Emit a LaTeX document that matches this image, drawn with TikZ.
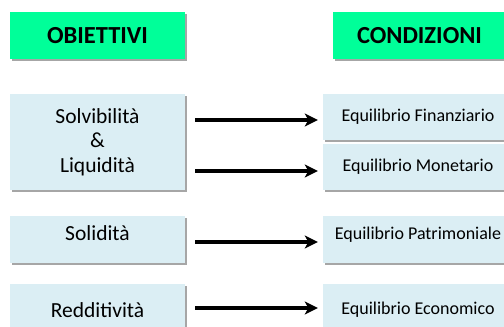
\documentclass[tikz,border=0pt]{standalone}
\usepackage{fontspec}
\setmainfont{Carlito}
\usepackage{tikz}
\usetikzlibrary{arrows.meta,positioning,shadows}
\definecolor{verde}{RGB}{0,255,153}
\definecolor{azzurro}{RGB}{219,238,244}

\begin{document}
\begin{tikzpicture}[
    x=1pt, y=1pt,
    node distance=100pt,
    >={Stealth[length=13pt,width=13pt,inset=3.5pt]},
    titolo/.style={
		rectangle,
		fill=verde,
		drop shadow={shadow xshift=1.5pt,shadow yshift=-1.5pt,fill=gray,opacity=.7},
		inner sep=0pt,
		minimum height=47pt,
		font=\bfseries\fontsize{24.5}{28}\selectfont
	},
	obiettivo/.style={
		rectangle,
		fill=azzurro,
		drop shadow={shadow xshift=1.5pt,shadow yshift=-1.5pt,fill=gray,opacity=.7},
		inner sep=0pt,
		align=center,
		minimum width=175pt,
		minimum height=47pt,
		font=\fontsize{21.5}{24.5}\selectfont
	},
	condizione/.style={
		rectangle,
		fill=azzurro,
		drop shadow={shadow xshift=1.5pt,shadow yshift=-1.5pt,fill=gray,opacity=.7},
		inner sep=0pt,
		minimum width=190pt,
		minimum height=47pt,
		font=\fontsize{18}{22}\selectfont
	},
	freccia/.style={
	  ->,
	  line width=3.2pt,
	  shorten <=10pt,
	  shorten >=5pt
    }
  ]

 \path [use as bounding box, clip] (0,0) rectangle (504,-327);

% // titoli
 \node [titolo, minimum width=175pt] (obiettivi) at (97.5,-35.5) {OBIETTIVI};
 \node [titolo, minimum width=173pt, node distance=322pt, right of=obiettivi] (condizioni) {CONDIZIONI};

% // obiettivi
 \node [obiettivo, node distance=106.5pt, below of=obiettivi, minimum height=96pt] (solvliq)
 {Solvibilità\\\&\\Liquidità};
 \node [obiettivo, node distance=97.5pt, below of=solvliq] (solidita)
 {\raisebox{6pt}[\height][\depth]{Solidità}};
 \node [obiettivo, node distance=70.5pt, below of=solidita, minimum height=52pt] (redditivita)
 {Redditività};

% // condizioni
 \node [condizione, node distance=81.5pt, below of=condizioni, xshift=-1.5pt, minimum height=46pt] (finanziario)
 {Equilibrio Finanziario};
 \node [condizione, node distance=50pt, below of=finanziario, minimum height=46pt] (monetario)
 {Equilibrio Monetario};
 \node [condizione, node distance=320.5pt, right of=solidita] (patrimoniale)
 {\raisebox{5pt}[\height][\depth]{Equilibrio Patrimoniale}};
 \node [condizione, node distance=320.5pt, right of=redditivita, minimum height=52pt] (economico)
 {Equilibrio Economico};

 \draw [freccia, transform canvas={yshift=-3pt}] (solvliq.east |- finanziario.west) -- (finanziario.west);
 \draw [freccia, transform canvas={yshift=-4pt}] (solvliq.east |- monetario.west) -- (monetario.west);
 \draw [freccia, transform canvas={yshift=-2.5pt}] (solidita.east) -- (patrimoniale.west);
 \draw [freccia, transform canvas={yshift=2pt}] (redditivita.east) -- (economico.west);

\end{tikzpicture}
\end{document}
